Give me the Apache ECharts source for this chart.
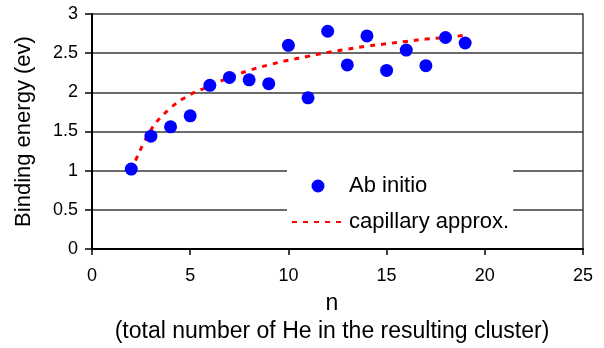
<!DOCTYPE html>
<html>
<head>
<meta charset="utf-8">
<script src="https://cdn.jsdelivr.net/npm/echarts@6/dist/echarts.min.js"></script>
<style>
html,body{margin:0;padding:0;background:#fff;}
#c{width:604px;height:348px;}
</style>
</head>
<body>
<div id="c"></div>
<script>
// Ab initio binding energies
const abN = [2, 3, 4, 5, 6, 7, 8, 9, 10, 11, 12, 13, 14, 15, 16, 17, 18, 19];
const abE = [1.02, 1.44, 1.56, 1.70, 2.09, 2.19, 2.16, 2.11, 2.60, 1.93, 2.78, 2.35, 2.72, 2.28, 2.54, 2.34, 2.70, 2.63];
// capillary approximation
const capN = [2, 3, 4, 5, 6, 7, 8, 9, 10, 11, 12, 13, 14, 15, 16, 17, 18, 19];
const capE = [1.00, 1.52, 1.80, 1.97, 2.08, 2.19, 2.28, 2.35, 2.41, 2.46, 2.51, 2.55, 2.59, 2.62, 2.65, 2.68, 2.70, 2.73];
const seriesNames = ['Ab initio', 'capillary approx.'];
const xName = 'n\n(total number of He in the resulting cluster)';
const yName = 'Binding energy (ev)';

const FONT = 'Liberation Sans, Arial, sans-serif';
const chart = echarts.init(document.getElementById('c'), null, {renderer: 'canvas'});
chart.setOption({
  animation: false,
  backgroundColor: '#fff',
  textStyle: {fontFamily: FONT, color: '#000'},
  grid: {left: 92, right: 21, top: 14, bottom: 99, containLabel: false, outerBoundsMode: 'none'},
  legend: {
    orient: 'vertical',
    left: 287,
    top: 165,
    backgroundColor: '#fff',
    padding: [10, 4, 10, 4],
    itemGap: 14,
    itemWidth: 52,
    itemHeight: 13,
    textStyle: {fontSize: 22, color: '#000', fontFamily: FONT},
    data: [
      {name: seriesNames[0]},
      {name: seriesNames[1], itemStyle: {color: 'rgba(0,0,0,0)', borderWidth: 0, opacity: 0}}
    ]
  },
  xAxis: {
    type: 'value', min: 0, max: 25, interval: 5,
    axisLine: {lineStyle: {color: '#000', width: 2}},
    axisTick: {show: true, length: 6, lineStyle: {color: '#000', width: 1.5}},
    splitLine: {show: false},
    axisLabel: {fontSize: 18, color: '#000', margin: 18, fontFamily: FONT},
    name: xName,
    nameLocation: 'middle',
    nameGap: 37,
    nameTextStyle: {fontSize: 23, color: '#000', lineHeight: 28, fontFamily: FONT, padding: [0, 11, 0, 0]}
  },
  yAxis: [
    {
      type: 'value', min: 0, max: 3, interval: 0.5,
      axisLine: {show: true, lineStyle: {color: '#000', width: 2}},
      axisTick: {show: true, length: 7, lineStyle: {color: '#000', width: 1.5}},
      splitLine: {show: true, lineStyle: {color: '#3a3a3a', width: 1.5}},
      axisLabel: {fontSize: 18, color: '#000', margin: 14, fontFamily: FONT},
      name: yName,
      nameLocation: 'middle',
      nameRotate: 90,
      nameGap: 57,
      nameTextStyle: {fontSize: 22, color: '#000', fontFamily: FONT}
    },
    {
      type: 'value', min: 0, max: 3, interval: 0.5, position: 'right',
      axisLine: {show: true, lineStyle: {color: '#3a3a3a', width: 1.5}},
      axisTick: {show: false},
      axisLabel: {show: false},
      splitLine: {show: false}
    }
  ],
  series: [
    {
      name: seriesNames[0],
      type: 'scatter',
      symbol: 'circle',
      symbolSize: 13,
      itemStyle: {color: '#0000ff', opacity: 1},
      z: 5,
      data: abN.map((n, i) => [n, abE[i]])
    },
    {
      name: seriesNames[1],
      type: 'line',
      smooth: 0.4,
      showSymbol: false,
      symbol: 'none',
      lineStyle: {color: '#ff0000', width: 3, type: [5, 6]},
      itemStyle: {color: '#ff0000'},
      z: 3,
      data: capN.map((n, i) => [n, capE[i]])
    }
  ]
});
</script>
</body>
</html>
